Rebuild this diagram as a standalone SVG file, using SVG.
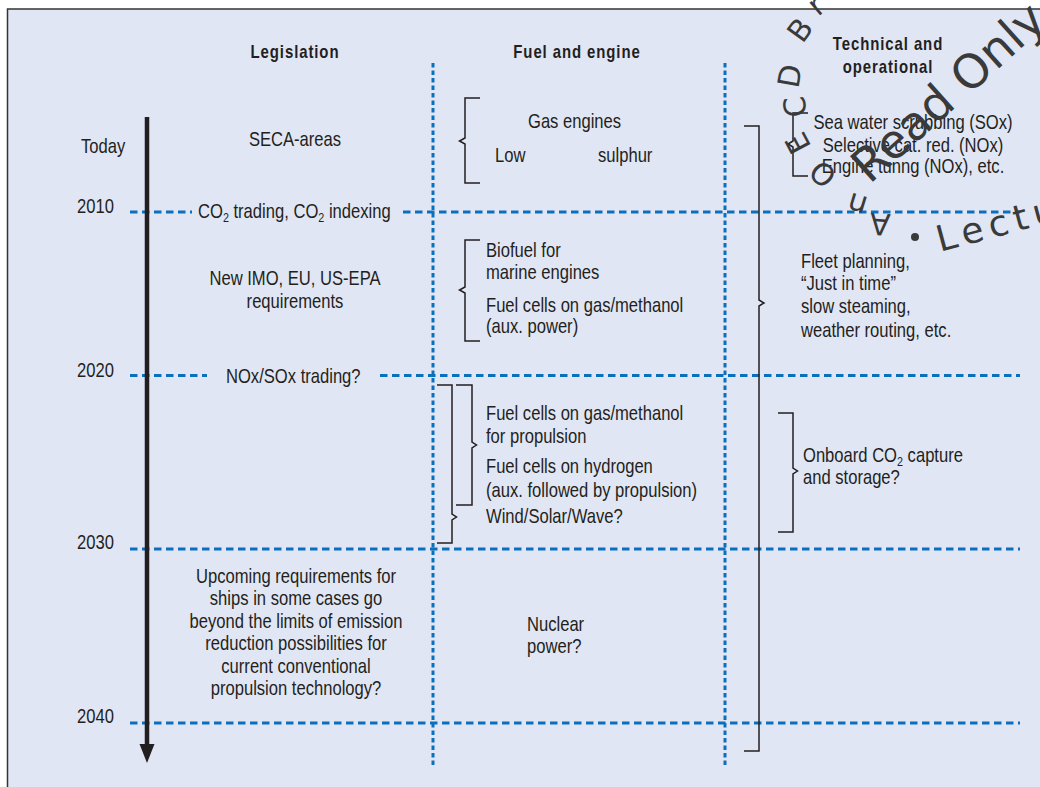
<svg xmlns="http://www.w3.org/2000/svg" width="1040" height="787" viewBox="0 0 1040 787">
<defs>
<style>
.t{font-family:"Liberation Sans",Arial,sans-serif;font-size:20px;fill:#231f20}
.m{text-anchor:middle}
.h{font-family:"Liberation Sans",Arial,sans-serif;font-size:18px;font-weight:bold;letter-spacing:1.1px;fill:#231f20;text-anchor:middle}
.sub{font-size:13px}
.hd{stroke:#0a6fbd;stroke-width:3;stroke-dasharray:7.5 4.5;fill:none}
.vd{stroke:#0a6fbd;stroke-width:3;stroke-dasharray:4.5 3;fill:none}
.br{stroke:#231f20;stroke-width:1.5;fill:none}
.wm{font-family:"DejaVu Sans",sans-serif;fill:#3a3a3a;text-anchor:middle}
</style>
</defs>
<rect x="7.5" y="9" width="1040" height="800" fill="#e1e6f4" stroke="#333" stroke-width="1.5"/>

<g id="connectors">
<line class="hd" x1="130" y1="212" x2="192" y2="212"/>
<line class="hd" x1="403" y1="212" x2="1020" y2="212"/>
<line class="hd" x1="130" y1="375.5" x2="207" y2="375.5"/>
<line class="hd" x1="380" y1="375.5" x2="1020" y2="375.5"/>
<line class="hd" x1="130" y1="549" x2="1020" y2="549"/>
<line class="hd" x1="130" y1="723" x2="1020" y2="723"/>
<line class="vd" x1="433" y1="63" x2="433" y2="768"/>
<line class="vd" x1="725" y1="63" x2="725" y2="768"/>
<line x1="147" y1="117" x2="147" y2="746" stroke="#231f20" stroke-width="4.5"/>
<polygon points="139.5,744 154.5,744 147,763" fill="#231f20"/>
<path class="br" d="M480,98 H465 V138 L459.5,141 L465,144 V183 H480"/>
<path class="br" d="M480,240 H465 V287 L459.5,290 L465,293 V341 H480"/>
<path class="br" d="M437,385 H452 V514 L456.5,517 L452,520 V543 H437"/>
<path class="br" d="M456,385 H472 V442 L476.5,445 L472,448 V505 H456"/>
<path class="br" d="M744,126 H759 V300 L764,303 L759,306 V751 H744"/>
<path class="br" d="M778,413 H793 V468 L797.5,471 L793,474 V532 H778"/>
<path class="br" d="M808,113 H793 V141 L788,144 L793,147 V176 H808"/>
</g>

<g id="headers">
<text class="h" transform="matrix(.83 0 0 1 295 58)">Legislation</text>
<text class="h" transform="matrix(.83 0 0 1 577 58)">Fuel and engine</text>
<text class="h" transform="matrix(.83 0 0 1 888 50)">Technical and</text>
<text class="h" transform="matrix(.83 0 0 1 888 73)">operational</text>
</g>

<g id="years">
<text class="t" transform="matrix(.83 0 0 1 81 153)">Today</text>
<text class="t" transform="matrix(.83 0 0 1 77 213)">2010</text>
<text class="t" transform="matrix(.83 0 0 1 77 377)">2020</text>
<text class="t" transform="matrix(.83 0 0 1 77 549)">2030</text>
<text class="t" transform="matrix(.83 0 0 1 77 723)">2040</text>
</g>

<g id="legislation">
<text class="t m" transform="matrix(.83 0 0 1 295 146)">SECA-areas</text>
<text class="t" transform="matrix(.83 0 0 1 198 218)">CO<tspan class="sub" dy="4">2</tspan><tspan dy="-4"> trading, CO</tspan><tspan class="sub" dy="4">2</tspan><tspan dy="-4"> indexing</tspan></text>
<text class="t m" transform="matrix(.83 0 0 1 295 285)">New IMO, EU, US-EPA</text>
<text class="t m" transform="matrix(.83 0 0 1 295 308)">requirements</text>
<text class="t" transform="matrix(.83 0 0 1 226 383)">NOx/SOx trading?</text>
<g id="upcoming">
<text class="t m" transform="matrix(.83 0 0 1 296 583)">Upcoming requirements for</text>
<text class="t m" transform="matrix(.83 0 0 1 296 605)">ships in some cases go</text>
<text class="t m" transform="matrix(.83 0 0 1 296 628)">beyond the limits of emission</text>
<text class="t m" transform="matrix(.83 0 0 1 296 650)">reduction possibilities for</text>
<text class="t m" transform="matrix(.83 0 0 1 296 673)">current conventional</text>
<text class="t m" transform="matrix(.83 0 0 1 296 695)">propulsion technology?</text>
</g>
</g>

<g id="fuel">
<g id="gas">
<text class="t" transform="matrix(.83 0 0 1 528 128)">Gas engines</text>
<text class="t" transform="matrix(.83 0 0 1 495 162)">Low</text>
<text class="t" transform="matrix(.83 0 0 1 598 162)">sulphur</text>
</g>
<g id="biofuel">
<text class="t" transform="matrix(.83 0 0 1 486 257)">Biofuel for</text>
<text class="t" transform="matrix(.83 0 0 1 486 279)">marine engines</text>
<text class="t" transform="matrix(.83 0 0 1 486 312)">Fuel cells on gas/methanol</text>
<text class="t" transform="matrix(.83 0 0 1 486 333)">(aux. power)</text>
</g>
<g id="fuelcells">
<text class="t" transform="matrix(.83 0 0 1 486 420)">Fuel cells on gas/methanol</text>
<text class="t" transform="matrix(.83 0 0 1 486 443)">for propulsion</text>
<text class="t" transform="matrix(.83 0 0 1 486 473)">Fuel cells on hydrogen</text>
<text class="t" transform="matrix(.83 0 0 1 486 497)">(aux. followed by propulsion)</text>
<text class="t" transform="matrix(.83 0 0 1 486 523)">Wind/Solar/Wave?</text>
</g>
<g id="nuclear">
<text class="t" transform="matrix(.83 0 0 1 527 631)">Nuclear</text>
<text class="t" transform="matrix(.83 0 0 1 527 653)">power?</text>
</g>
</g>

<g id="technical">
<g id="scrubbing">
<text class="t m" transform="matrix(.83 0 0 1 913 129)">Sea water scrubbing (SOx)</text>
<text class="t m" transform="matrix(.83 0 0 1 913 152)">Selective cat. red. (NOx)</text>
<text class="t m" transform="matrix(.83 0 0 1 913 173)">Engine tunng (NOx), etc.</text>
</g>
<g id="fleet">
<text class="t" transform="matrix(.83 0 0 1 801 268)">Fleet planning,</text>
<text class="t" transform="matrix(.83 0 0 1 801 290)">“Just in time”</text>
<text class="t" transform="matrix(.83 0 0 1 801 313)">slow steaming,</text>
<text class="t" transform="matrix(.83 0 0 1 801 337)">weather routing, etc.</text>
</g>
<g id="onboard">
<text class="t" transform="matrix(.83 0 0 1 803 462)">Onboard CO<tspan class="sub" dy="4">2</tspan><tspan dy="-4"> capture</tspan></text>
<text class="t" transform="matrix(.83 0 0 1 803 484)">and storage?</text>
</g>
</g>

<g id="watermark" class="wm">
<text font-size="30" transform="translate(816,5) rotate(-40)" dy="0.35em">r</text>
<text font-size="30" transform="translate(800,30) rotate(-54)" dy="0.35em">B</text>
<text font-size="30" transform="translate(790,76) rotate(-80)" dy="0.35em">D</text>
<text font-size="30" transform="translate(795,107) rotate(-97)" dy="0.35em">C</text>
<text font-size="30" transform="translate(798,143) rotate(-118)" dy="0.35em">E</text>
<text font-size="30" transform="translate(823,174) rotate(-139)" dy="0.35em">O</text>
<text font-size="30" transform="translate(857,205) rotate(-163)" dy="0.35em">n</text>
<text font-size="30" transform="translate(880,224) rotate(-176)" dy="0.35em">A</text>
<text font-size="47" transform="translate(948,92) rotate(-42)" dy="0.35em">Read Only</text>
<circle cx="915" cy="237" r="4" fill="#3a3a3a"/>
<text font-size="36" transform="translate(940,252) rotate(-15)" style="text-anchor:start;letter-spacing:6px">Lectu</text>
</g>
</svg>
